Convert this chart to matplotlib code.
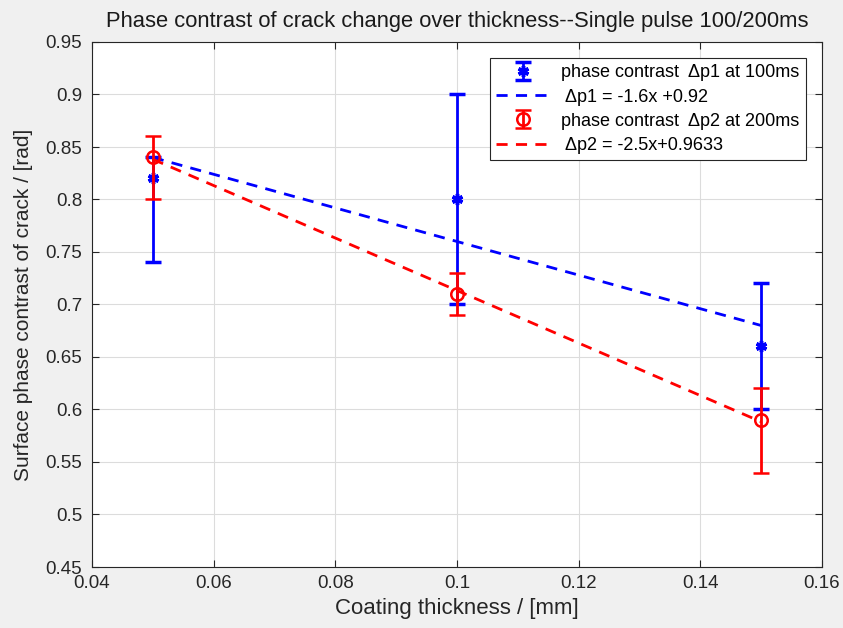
import numpy as np
import matplotlib
matplotlib.use("Agg")
import matplotlib.pyplot as plt

plt.rcParams['font.family'] = ['Liberation Sans', 'DejaVu Sans']

# data
thickness = [0.05, 0.10, 0.15]

p1 = [0.82, 0.80, 0.66]
p1_low = [0.08, 0.10, 0.06]
p1_up = [0.02, 0.10, 0.06]

p2 = [0.84, 0.71, 0.59]
p2_low = [0.04, 0.02, 0.05]
p2_up = [0.02, 0.02, 0.03]

fit1 = [-1.6, 0.92]
fit2 = [-2.5, 0.9633]

xticks = [0.04, 0.06, 0.08, 0.10, 0.12, 0.14, 0.16]
xtick_labels = ['0.04', '0.06', '0.08', '0.1', '0.12', '0.14', '0.16']
yticks = [0.45, 0.5, 0.55, 0.6, 0.65, 0.7, 0.75, 0.8, 0.85, 0.9, 0.95]
ytick_labels = ['0.45', '0.5', '0.55', '0.6', '0.65', '0.7', '0.75', '0.8', '0.85', '0.9', '0.95']

fig = plt.figure(figsize=(8.43, 6.28), dpi=100)
fig.patch.set_facecolor('#f0f0f0')
ax = fig.add_axes([92/843, 1 - 567/628, (822 - 92)/843, (567 - 42)/628])
ax.set_facecolor('white')

x = np.array(thickness)
h1 = ax.errorbar(thickness, p1, yerr=[p1_low, p1_up], marker=(6, 2, 0), color='blue',
                 markersize=8, markeredgewidth=2.5, elinewidth=2, capsize=6,
                 capthick=2, linestyle='none', zorder=3)
l1, = ax.plot(x, np.polyval(fit1, x), color='blue', linewidth=2,
              linestyle=(0, (4, 3)), zorder=3)
h2 = ax.errorbar(thickness, p2, yerr=[p2_low, p2_up], fmt='o', color='red',
                 markerfacecolor='none', markeredgewidth=1.8, markersize=9,
                 elinewidth=2, capsize=6, capthick=2, linestyle='none', zorder=4)
l2, = ax.plot(x, np.polyval(fit2, x), color='red', linewidth=2,
              linestyle=(0, (4, 3)), zorder=4)

ax.set_xlim(0.04, 0.16)
ax.set_ylim(0.45, 0.95)
ax.set_xticks(xticks)
ax.set_xticklabels(xtick_labels)
ax.set_yticks(yticks)
ax.set_yticklabels(ytick_labels)
ax.grid(True, color='#dcdcdc', linewidth=0.8)
ax.set_axisbelow(True)
ax.tick_params(direction='in', top=True, right=True, labelsize=13.5,
               length=5, colors='#262626', labelcolor='#262626')
ax.tick_params(axis='y', pad=7)
ax.tick_params(axis='x', pad=6)
for s in ax.spines.values():
    s.set_color('#262626')
    s.set_linewidth(0.8)

ax.set_title('Phase contrast of crack change over thickness--Single pulse 100/200ms',
             fontsize=15.8, color='#1a1a1a', pad=11)
ax.set_xlabel('Coating thickness / [mm]', fontsize=16, color='#262626', labelpad=4)
ax.set_ylabel('Surface phase contrast of crack / [rad]', fontsize=15, color='#262626',
              labelpad=9)

leg = ax.legend([h1, l1, h2, l2],
                ['phase contrast  \u0394p1 at 100ms', ' \u0394p1 = -1.6x +0.92',
                 'phase contrast  \u0394p2 at 200ms', ' \u0394p2 = -2.5x+0.9633'],
                loc='upper right', bbox_to_anchor=(0.978, 0.9695), fontsize=13,
                frameon=True, fancybox=False, edgecolor='#262626',
                framealpha=1, handlelength=3.0, borderpad=0.35, labelspacing=0.4,
                handletextpad=0.6, borderaxespad=0)
leg.get_frame().set_linewidth(0.8)

plt.savefig('out.png', dpi=100, facecolor=fig.get_facecolor())
